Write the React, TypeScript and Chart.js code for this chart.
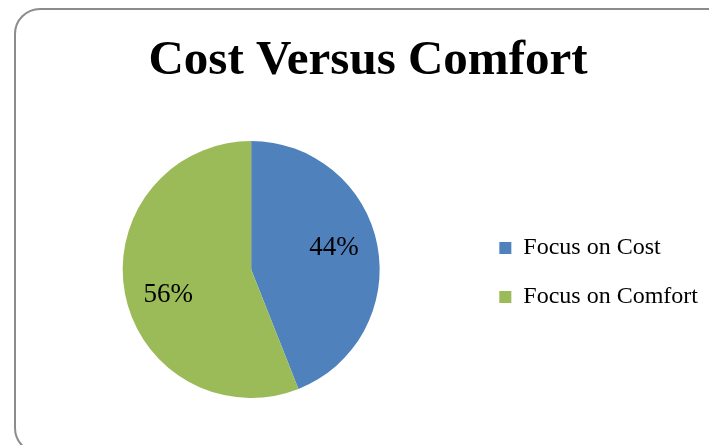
import React, { useEffect, useRef } from "react";
import { Chart, registerables } from "chart.js";

Chart.register(...registerables);

const TITLE = "Cost Versus Comfort";
const CATEGORIES = ["Focus on Cost", "Focus on Comfort"];
const VALUES = [44, 56];
const COLORS = ["#4F81BD", "#9BBB59"];
const FONT = "'Liberation Serif', 'Times New Roman', serif";

const pctLabels = {
  id: "pctLabels",
  afterDatasetsDraw(chart: any) {
    const ctx = chart.ctx;
    const meta = chart.getDatasetMeta(0);
    const data = chart.data.datasets[0].data as number[];
    const total = data.reduce((a, b) => a + b, 0);
    ctx.save();
    ctx.font = `27px ${FONT}`;
    ctx.fillStyle = "#000000";
    ctx.textAlign = "center";
    ctx.textBaseline = "middle";
    meta.data.forEach((arc: any, i: number) => {
      const p = arc.getProps(["x", "y", "startAngle", "endAngle", "outerRadius"], true);
      const mid = (p.startAngle + p.endAngle) / 2 - 0.087;
      const r = p.outerRadius * 0.67;
      const pct = Math.round((data[i] / total) * 100) + "%";
      ctx.fillText(pct, p.x + Math.cos(mid) * r, p.y + 2 + Math.sin(mid) * r);
    });
    ctx.restore();
  },
};

export default function App() {
  const ref = useRef<HTMLCanvasElement>(null);
  useEffect(() => {
    if (!ref.current) return;
    const chart = new Chart(ref.current, {
      type: "pie",
      data: {
        labels: CATEGORIES,
        datasets: [
          {
            data: VALUES,
            backgroundColor: COLORS,
            borderWidth: 0,
          },
        ],
      },
      options: {
        responsive: false,
        animation: false,
        devicePixelRatio: 1,
        layout: { padding: { left: 28, right: 1, top: 10, bottom: 47 } },
        plugins: {
          title: {
            display: true,
            text: TITLE,
            color: "#000000",
            font: { family: FONT, size: 49, weight: "bold", lineHeight: 1.2 },
            padding: { top: 22, bottom: 50.2 },
          },
          legend: {
            position: "right",
            title: {
              display: true,
              text: "",
              font: { size: 5, lineHeight: 1.4 },
              padding: { top: 0, bottom: 130 },
            },
            labels: {
              boxWidth: 12,
              boxHeight: 12,
              padding: 25,
              color: "#000000",
              font: { family: FONT, size: 24 },
            },
          },
          tooltip: { enabled: false },
        },
      },
      plugins: [pctLabels],
    });
    return () => chart.destroy();
  }, []);

  return (
    <div
      style={{
        position: "fixed",
        left: 0,
        top: 0,
        width: 709,
        height: 445,
        overflow: "hidden",
        background: "#ffffff",
      }}
    >
      <div
        style={{
          position: "absolute",
          left: 14,
          top: 8,
          width: 720,
          height: 446,
          boxSizing: "border-box",
          border: "2px solid #8c8c8c",
          borderRadius: 26,
        }}
      />
      <canvas
        ref={ref}
        width={709}
        height={445}
        style={{ position: "absolute", left: 0, top: 0, width: 709, height: 445 }}
      />
    </div>
  );
}
